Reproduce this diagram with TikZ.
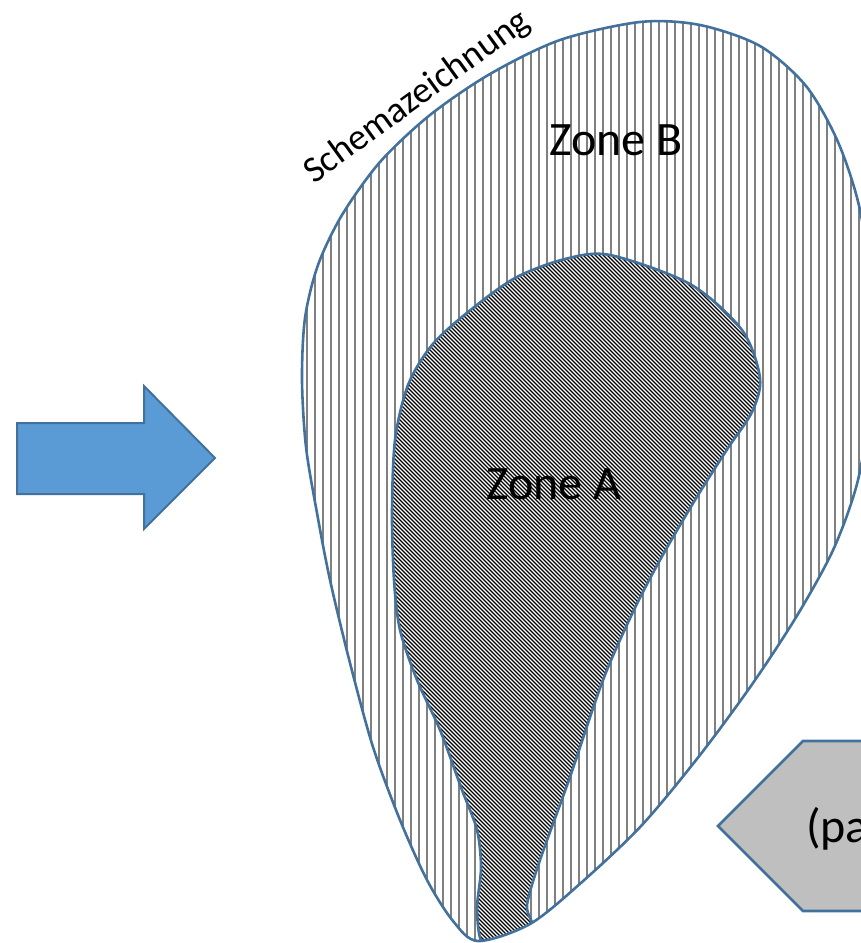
\documentclass[tikz,border=0pt]{standalone}
\usepackage{fontspec}
\setmainfont{Carlito}
\definecolor{outl}{RGB}{65,113,156}
\definecolor{arrowfill}{RGB}{91,155,213}
\definecolor{hatchgray}{RGB}{128,128,128}
\definecolor{pentfill}{RGB}{191,191,191}
\begin{document}
\begin{tikzpicture}[x=1pt,y=-1pt,
  outline/.style={draw=outl,line width=2.6pt},
  biglabel/.style={font=\fontsize{48}{56}\selectfont,inner sep=0pt},
  vhatch/.style={draw=hatchgray,line width=2pt},
  dhatch/.style={draw=black,line width=1.2pt}]
\useasboundingbox (0,0) rectangle (861,943);
\clip (0,0) rectangle (861,943);
% hatching of zone B and zone A
\begin{scope}
  \clip plot[smooth cycle] coordinates {(478,941) (453,921) (427,880) (400,820) (373,747) (350,663) (330,580) (317,513) (306,447) (302,380) (305,318) (318,265) (342,215) (380,162) (430,115) (490,74) (560,40) (640,22) (700,25) (760,46) (806,86) (838,142) (860,210) (872,300) (870,400) (858,480) (834,548) (798,614) (753,683) (700,755) (642,825) (582,882) (530,924)};
  \foreach \x in {2.7,10.7,...,861} {\draw[vhatch] (\x,0) -- (\x,943);}
  \begin{scope}
    \clip plot[smooth cycle] coordinates {(610,255) (690,284) (742,330) (760,378) (752,412) (728,448) (695,500) (660,560) (633,612) (603,680) (570,777) (540,860) (527,905) (532,927) (510,940) (483,944) (477,910) (481,868) (477,830) (462,790) (440,730) (417,680) (400,630) (394,580) (392,513) (395,440) (408,385) (432,345) (468,312) (515,278) (565,259)};
    \fill[white] (380,240) rectangle (780,943);
    \foreach \c in {-560,-556,...,520} {\draw[dhatch] (\c,0) -- ({\c+943},943);}
  \end{scope}
  \draw[outline] plot[smooth cycle] coordinates {(610,255) (690,284) (742,330) (760,378) (752,412) (728,448) (695,500) (660,560) (633,612) (603,680) (570,777) (540,860) (527,905) (532,927) (510,940) (483,944) (477,910) (481,868) (477,830) (462,790) (440,730) (417,680) (400,630) (394,580) (392,513) (395,440) (408,385) (432,345) (468,312) (515,278) (565,259)};
\end{scope}
\draw[outline] plot[smooth cycle] coordinates {(478,941) (453,921) (427,880) (400,820) (373,747) (350,663) (330,580) (317,513) (306,447) (302,380) (305,318) (318,265) (342,215) (380,162) (430,115) (490,74) (560,40) (640,22) (700,25) (760,46) (806,86) (838,142) (860,210) (872,300) (870,400) (858,480) (834,548) (798,614) (753,683) (700,755) (642,825) (582,882) (530,924)};
% labels
\node[biglabel] (zoneB) at (616,140) {Zone B};
\node[biglabel] (zoneA) at (554,484) {Zone A};
\node[font=\fontsize{37}{44}\selectfont,inner sep=0pt,anchor=base,rotate=36] (schema) at (423,105) {Schemazeichnung};
% blue arrow
\draw[outl,line width=2pt,fill=arrowfill,line join=miter] (17,423) -- (144,423) -- (144,386) -- (215,458) -- (144,529) -- (144,494) -- (17,494) -- cycle;
% grey pentagon
\draw[outline,fill=pentfill] (718,826) -- (803,741) -- (900,741) -- (900,911) -- (803,911) -- cycle;
\node[biglabel,anchor=base west] (pa) at (806,842) {(pa};
\end{tikzpicture}
\end{document}
